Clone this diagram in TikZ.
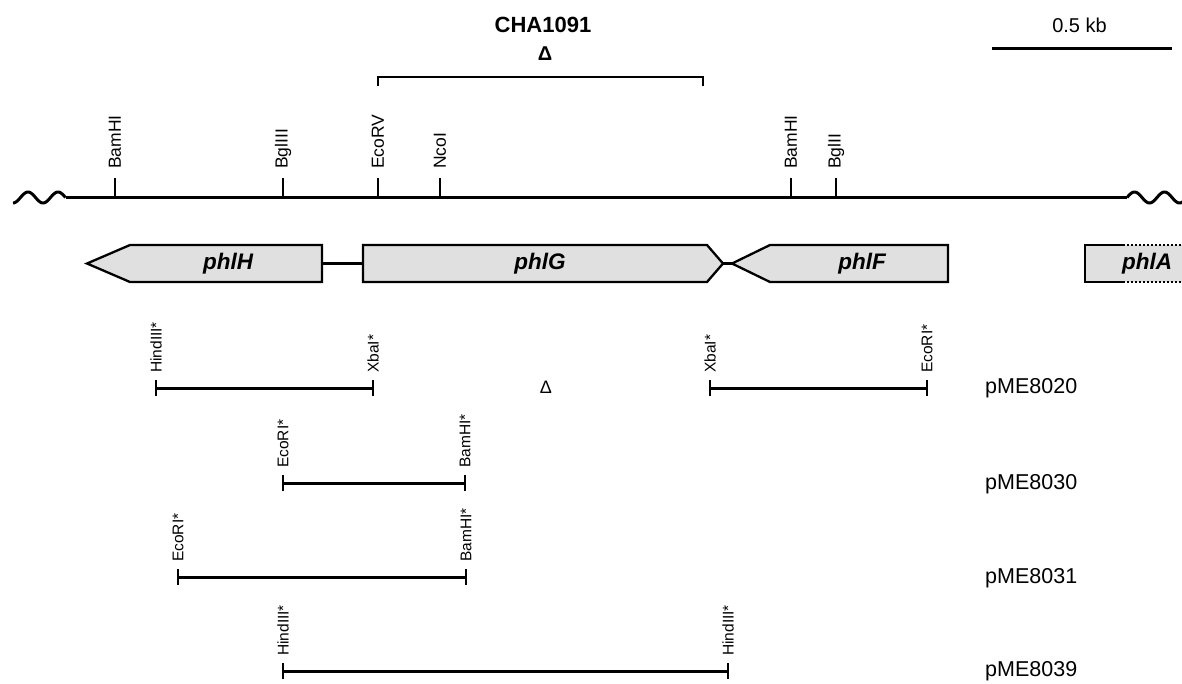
\documentclass[tikz,border=0pt]{standalone}
\usepackage{fontspec}
\setmainfont{Liberation Sans}
\begin{document}
\begin{tikzpicture}[x=1pt,y=-1pt,
  mainline/.style={line width=3pt},
  ticks/.style={line width=2.8pt},
  genebox/.style={draw=black,line width=2.3pt,fill=black!12,line join=miter},
  genelabel/.style={font=\fontsize{22.5}{26}\selectfont\bfseries\itshape},
  sitelabel/.style={rotate=90,anchor=west,inner sep=0pt,font=\fontsize{17.5}{20}\selectfont},
  fraglabel/.style={rotate=90,anchor=west,inner sep=0pt,font=\fontsize{15.5}{18}\selectfont},
  plabel/.style={anchor=west,inner sep=0pt,font=\fontsize{21.5}{24}\selectfont},
]
\useasboundingbox (0,0) rectangle (1182,683);

% title and deletion bracket
\node[font=\fontsize{22}{26}\selectfont\bfseries] (cha) at (543,25) {CHA1091};
\node[font=\fontsize{20}{24}\selectfont\bfseries] (delta) at (545,54) {Δ};
\coordinate (bl) at (378,77);
\coordinate (br) at (703,77);
\draw[line width=2.8pt] ([yshift=-9pt]bl) -- (bl) -- (br) -- ([yshift=-9pt]br);

% scale bar
\node[font=\fontsize{20}{24}\selectfont] (scale) at (1079.5,25) {0.5 kb};
\coordinate (sL) at (992,48);
\coordinate (sR) at (1172,48);
\draw[line width=3pt] (sL) -- (sR);

% main line with wavy ends
\coordinate (mL) at (65.5,197.5);
\coordinate (mR) at (1127,197.5);
\draw[mainline] plot[domain=13:65.5,samples=60,smooth] (\x,{197.5-5.5*sin((\x-20.5)*12)});
\draw[mainline] (mL) -- (mR);
\draw[mainline] plot[domain=1127:1184,samples=60,smooth] (\x,{197.5-5.5*sin((\x-1127)*12)});

% restriction sites on the map
\foreach \n/\xx/\t in {s1/115/BamHI, s2/283/BglIII, s3/378/EcoRV, s4/440/NcoI, s5/791/BamHI, s6/836/BglII}{
  \coordinate (\n) at (\xx,197.5);
  \draw[ticks] (\n) -- ++(0,-20);
  \node[sitelabel] (\n l) at (\xx,169) {\t};
}

% genes
\draw[genebox] (87,263.5) -- (130,245) -- (322,245) -- (322,282) -- (130,282) -- cycle;
\node[genelabel] (phlH) at (228,264) {phlH};
\coordinate (hR) at (322,263.5);
\coordinate (gL) at (363,263.5);
\draw[line width=2.3pt] (hR) -- (gL);
\draw[genebox] (363,245) -- (707,245) -- (723,263.5) -- (707,282) -- (363,282) -- cycle;
\node[genelabel] (phlG) at (540,264) {phlG};
\coordinate (gT) at (723,263.5);
\coordinate (fT) at (732,263.5);
\draw[line width=2.3pt] (gT) -- (fT);
\draw[genebox] (732,263.5) -- (770,245) -- (948,245) -- (948,282) -- (770,282) -- cycle;
\node[genelabel] (phlF) at (862,264) {phlF};
\fill[black!12] (1085,245) rectangle (1184,282);
\draw[line width=2.3pt] (1123,245) -- (1085,245) -- (1085,282) -- (1123,282);
\draw[line width=2pt,dotted] (1123,245) -- (1184,245);
\draw[line width=2pt,dotted] (1123,282) -- (1184,282);
\node[genelabel] (phlA) at (1147,264) {phlA};

% fragments
\foreach \n/\a/\b/\yy/\ta/\tb in {
  fa/156/373/388/HindIII*/XbaI*,
  fb/710/927/388/XbaI*/EcoRI*,
  fc/283/465/483/EcoRI*/BamHI*,
  fd/178/466/577/EcoRI*/BamHI*,
  fe/283/728/671/HindIII*/HindIII*}{
  \coordinate (\n1) at (\a,\yy);
  \coordinate (\n2) at (\b,\yy);
  \draw[line width=3pt] (\n1) -- (\n2);
  \draw[ticks] ([yshift=-8pt]\n1) -- ([yshift=8pt]\n1);
  \draw[ticks] ([yshift=-8pt]\n2) -- ([yshift=8pt]\n2);
  \node[fraglabel] (\n1l) at ([yshift=15pt]\n1) {\ta};
  \node[fraglabel] (\n2l) at ([yshift=15pt]\n2) {\tb};
}
\node[font=\fontsize{18}{20}\selectfont] (delta2) at (546,387) {Δ};

\node[plabel] (p20) at (985,388) {pME8020};
\node[plabel] (p30) at (985,484) {pME8030};
\node[plabel] (p31) at (985,578) {pME8031};
\node[plabel] (p39) at (985,671) {pME8039};
\end{tikzpicture}
\end{document}
